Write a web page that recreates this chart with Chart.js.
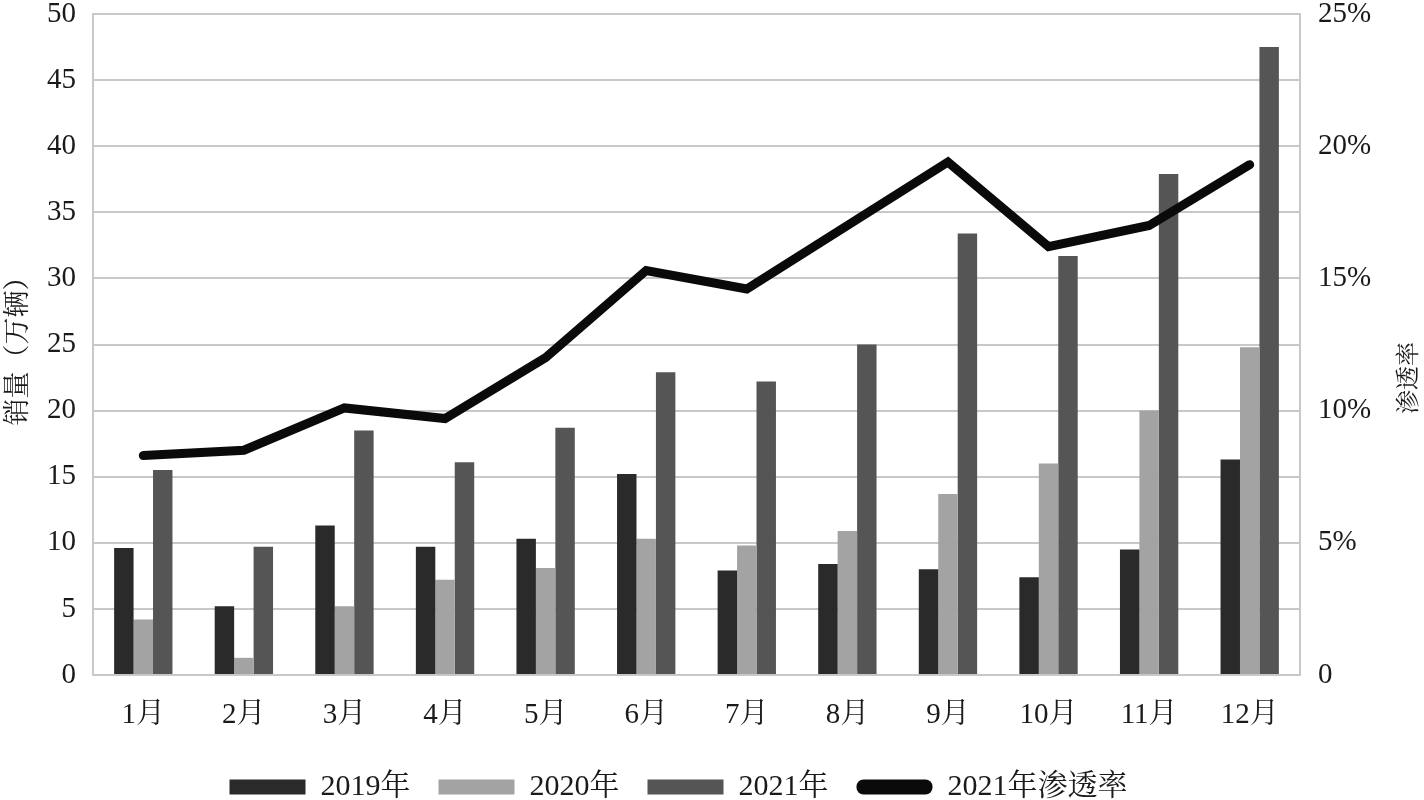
<!DOCTYPE html>
<html>
<head>
<meta charset="utf-8">
<script src="https://cdn.jsdelivr.net/npm/chart.js@4.4.0/dist/chart.umd.min.js"></script>
<style>
html,body{margin:0;padding:0;background:#fff;}
#wrap{width:1424px;height:800px;position:relative;}
</style>
</head>
<body>
<div id="wrap"><canvas id="c"></canvas></div>
<script>
const months = ['1月','2月','3月','4月','5月','6月','7月','8月','9月','10月','11月','12月'];
const sales2019 = [9.6, 5.2, 11.3, 9.7, 10.3, 15.2, 7.9, 8.4, 8.0, 7.4, 9.5, 16.3];
const sales2020 = [4.2, 1.3, 5.2, 7.2, 8.1, 10.3, 9.8, 10.9, 13.7, 16.0, 20.0, 24.8];
const sales2021 = [15.5, 9.7, 18.5, 16.1, 18.7, 22.9, 22.2, 25.0, 33.4, 31.7, 37.9, 47.5];
const penetration2021 = [8.3, 8.5, 10.1, 9.7, 12.0, 15.3, 14.6, 17.0, 19.4, 16.2, 17.0, 19.3];
const seriesNames = ['2019年','2020年','2021年','2021年渗透率'];
const leftTitle = '销量（万辆）';
const rightTitle = '渗透率';

const FONT = '"Liberation Serif", "Noto Serif CJK SC", "Noto Sans CJK SC", serif';
const TXT = '#1a1a1a';
const GRID = '#c8c8c8';

const rightTitlePlugin = {
  id: 'rightTitle',
  afterLayout(chart) {
    // nudge legend block to match the reference placement
    if (chart.legend) {
      chart.legend.top += 12;
      chart.legend.bottom += 12;
      chart.legend.left -= 18;
      chart.legend.right -= 18;
    }
  },
  afterDraw(chart) {
    const ctx = chart.ctx;
    ctx.save();
    ctx.translate(1410, 378);
    ctx.rotate(-Math.PI / 2);
    ctx.fillStyle = TXT;
    ctx.font = '24px ' + FONT;
    ctx.textAlign = 'center';
    ctx.textBaseline = 'middle';
    ctx.fillText(rightTitle, 0, 0);
    ctx.restore();
  }
};

new Chart(document.getElementById('c'), {
  data: {
    labels: months,
    datasets: [
      { type: 'line', label: seriesNames[3], data: penetration2021, yAxisID: 'y1',
        borderColor: '#0a0a0a', backgroundColor: '#0a0a0a', borderWidth: 9,
        pointRadius: 0, tension: 0, borderCapStyle: 'round', borderJoinStyle: 'miter', order: 0 },
      { type: 'bar', label: seriesNames[0], data: sales2019, yAxisID: 'y',
        backgroundColor: '#2a2a2a', borderColor: '#2a2a2a', borderWidth: 0, order: 1,
        categoryPercentage: 0.58, barPercentage: 1.0 },
      { type: 'bar', label: seriesNames[1], data: sales2020, yAxisID: 'y',
        backgroundColor: '#a3a3a3', borderColor: '#a3a3a3', borderWidth: 0, order: 1,
        categoryPercentage: 0.58, barPercentage: 1.0 },
      { type: 'bar', label: seriesNames[2], data: sales2021, yAxisID: 'y',
        backgroundColor: '#555555', borderColor: '#555555', borderWidth: 0, order: 1,
        categoryPercentage: 0.58, barPercentage: 1.0 }
    ]
  },
  options: {
    responsive: true,
    maintainAspectRatio: false,
    animation: false,
    layout: { padding: { top: 14, left: 0, right: 0, bottom: 0 } },
    plugins: {
      tooltip: { enabled: false },
      legend: {
        position: 'bottom',
        fullSize: false,
        labels: {
          color: TXT,
          font: { family: FONT, size: 30 },
          boxWidth: 76,
          boxHeight: 15,
          padding: 28,
          useBorderRadius: true,
          generateLabels(chart) {
            const items = Chart.defaults.plugins.legend.labels.generateLabels(chart);
            items.forEach(it => {
              it.lineWidth = 0;
              it.borderRadius = it.datasetIndex === 0 ? 7 : 0;
            });
            return items;
          },
          sort: (a, b) => {
            const ord = [1, 2, 3, 0];
            return ord.indexOf(a.datasetIndex) - ord.indexOf(b.datasetIndex);
          }
        }
      }
    },
    scales: {
      x: {
        grid: { display: false, drawTicks: false },
        border: { display: true, color: GRID, width: 2 },
        ticks: { color: TXT, font: { family: FONT, size: 29 }, padding: 23, maxRotation: 0 },
        afterFit(s) { s.height = 57; }
      },
      y: {
        position: 'left',
        min: 0, max: 50,
        ticks: { stepSize: 5, color: TXT, font: { family: FONT, size: 29 }, padding: 17 },
        grid: { color: GRID, lineWidth: 2, drawTicks: false },
        border: { display: true, color: GRID, width: 2 },
        title: { display: true, text: leftTitle, color: TXT, font: { family: FONT, size: 27 }, padding: 3 },
        afterFit(s) { s.width = 93; s.paddingTop = 0; s.paddingBottom = 0; }
      },
      y1: {
        position: 'right',
        min: 0, max: 25,
        ticks: { stepSize: 5, color: TXT, font: { family: FONT, size: 29 }, padding: 18,
          callback: v => v === 0 ? '0' : v + '%' },
        grid: { display: false, drawTicks: false },
        border: { display: true, color: GRID, width: 2 },
        afterFit(s) { s.width = 124; s.paddingTop = 0; s.paddingBottom = 0; }
      }
    }
  },
  plugins: [rightTitlePlugin]
});
</script>
</body>
</html>
